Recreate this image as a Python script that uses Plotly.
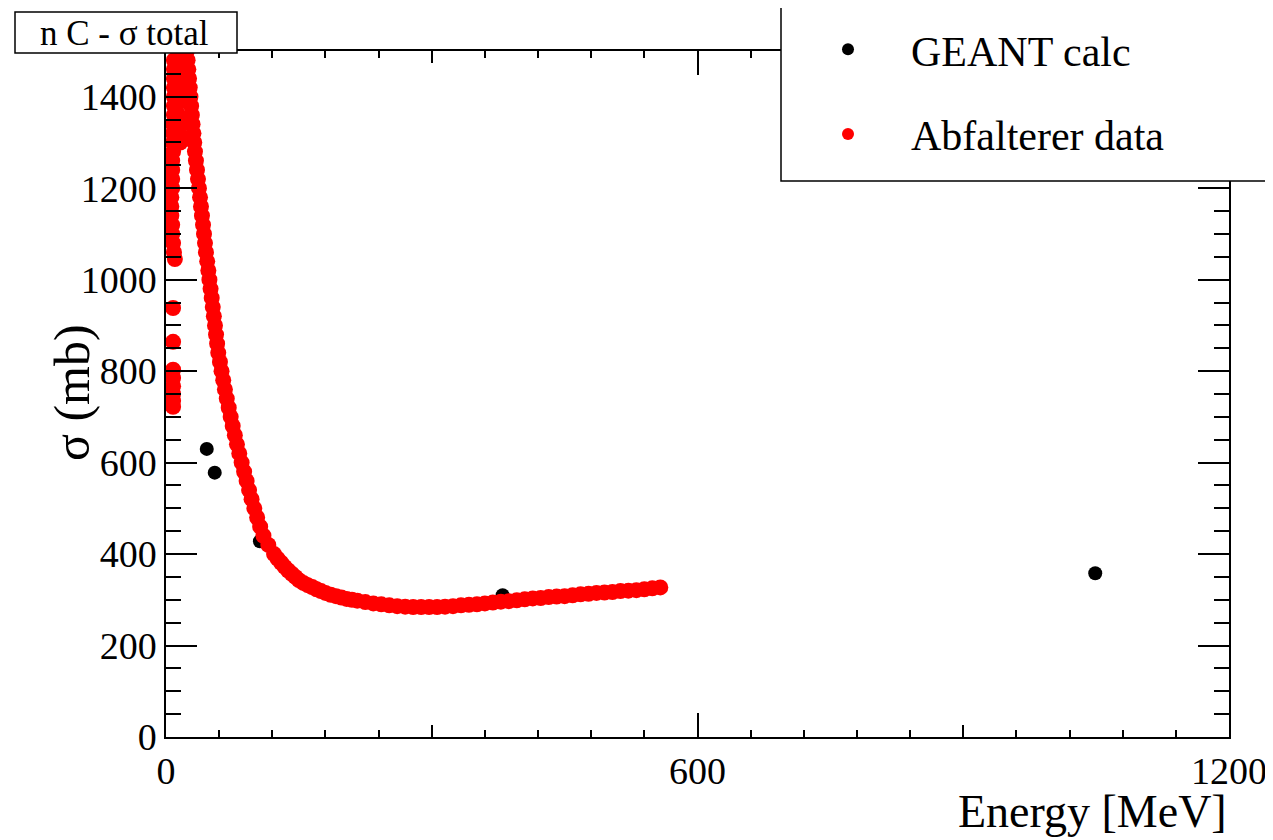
import plotly.graph_objects as go

# ---------------- data ----------------
geant_E = [46, 55, 106, 380, 1049]
geant_sigma = [630, 578, 428, 310, 358]

# low-energy resonance region of the Abfalterer data
abf_low_E = [8, 8, 8, 8, 8, 8, 8, 8, 10,
             9, 9, 9, 9, 9, 9, 9, 8, 8, 8, 8, 7, 7, 7, 7, 6, 6, 6, 7, 7, 8, 9,
             15, 18, 15, 17, 14, 18, 13, 16, 20]
abf_low_sigma = [722, 735, 750, 767, 785, 803, 864, 938, 1045,
                 1480, 1460, 1440, 1420, 1400, 1380, 1360, 1340, 1320, 1300, 1280, 1260, 1240,
                 1220, 1200, 1180, 1160, 1140, 1120, 1100, 1080, 1060,
                 1480, 1450, 1420, 1390, 1360, 1340, 1320, 1300, 1310]

# steeply falling part
abf_fall_E = [23.6, 24.4, 25.2, 26, 26.8, 27.6, 28.4, 29.2, 30, 31, 31.9, 32.7, 33.8, 35, 36.1,
              37.2, 38.4, 39.5, 40.6, 41.8, 42.9, 44, 45.1, 46.5, 47.8, 49, 50.3, 51.6, 52.8,
              54, 55.3, 56.5, 57.7, 59, 60.9, 62.7, 64.6, 66.5, 68.6, 70.8, 73, 75.3, 77.7,
              80.1, 82.7, 85.4, 88.2, 91, 93.8, 96.6, 99.7, 102.9, 106.3, 110, 115.5, 122]
abf_fall_sigma = [1500, 1480, 1460, 1440, 1420, 1400, 1380, 1360, 1340, 1320, 1300, 1280, 1260,
                  1240, 1220, 1200, 1180, 1160, 1140, 1120, 1100, 1080, 1060, 1040, 1020, 1000,
                  980, 960, 940, 920, 900, 880, 860, 840, 820, 800, 780, 760, 740, 720, 700,
                  680, 660, 640, 620, 600, 580, 560, 540, 520, 500, 480, 460, 440, 420, 400]

# flat / slowly rising part
abf_flat_E = [126, 130, 134, 138, 142, 146, 150, 155, 160, 165, 170, 175, 180, 186, 192, 198,
              204, 210, 216, 225, 234, 243, 252, 261, 270, 279, 288, 297, 306, 315, 324, 333,
              342, 351, 360, 369, 378, 387, 396, 405, 414, 423, 432, 441, 450, 459, 468, 477,
              486, 495, 504, 513, 522, 531, 540, 549, 558]
abf_flat_sigma = [390, 381, 372, 364, 357, 350, 343, 337, 332, 328, 323, 319, 315, 311, 308, 305,
                  302, 300, 298, 295, 292, 290, 288, 286, 285, 284, 284, 284, 284, 285, 286, 288,
                  289, 290, 292, 294, 296, 297, 299, 301, 303, 304, 306, 307, 308, 310, 312, 313,
                  315, 316, 317, 319, 320, 321, 323, 325, 327]

abf_E = abf_low_E + abf_fall_E + abf_flat_E
abf_sigma = abf_low_sigma + abf_fall_sigma + abf_flat_sigma

x_major = [0, 600, 1200]
x_mid = [300, 900]

FONT = "Liberation Serif"

# page body has an 8px margin: figure is 8px smaller and placed at (8, 8)
W, H = 1265, 832
PL, PR, PT, PB = 166, 1229, 51, 737          # plot frame in page pixels
OFF = 8


def px_x(px):
    return (px - PL) / (PR - PL)


def px_y(py):
    return (PB - py) / (PB - PT)


# ---------------- figure ----------------
fig = go.Figure()
fig.add_trace(go.Scatter(
    x=geant_E, y=geant_sigma, mode="markers", name="GEANT calc",
    marker=dict(color="black", size=14, line=dict(width=0)),
    legendgroup="g1",
))
fig.add_trace(go.Scatter(
    x=abf_E, y=abf_sigma, mode="markers", name="Abfalterer data",
    marker=dict(color="#ff0000", size=16, line=dict(width=0)),
    legendgroup="g2",
))

axis_common = dict(
    showline=True, linecolor="black", linewidth=1.5, mirror="ticks",
    ticks="inside", tickcolor="black", tickwidth=1.5,
    showgrid=False, zeroline=False,
    tickfont=dict(family=FONT, size=38, color="black"),
)

fig.update_layout(
    width=W, height=H,
    margin=dict(l=PL - OFF, r=W - (PR - OFF), t=PT - OFF, b=H - (PB - OFF), autoexpand=False),
    paper_bgcolor="white", plot_bgcolor="white",
    font=dict(family=FONT, color="black"),
    xaxis=dict(range=[0, 1200], tickvals=x_major, ticklen=24, automargin=False,
               minor=dict(dtick=60, ticklen=7, ticks="inside", tickcolor="black", tickwidth=1.5),
               **axis_common),
    xaxis2=dict(range=[0, 1200], overlaying="x", matches="x", anchor="y", side="bottom",
                tickvals=x_mid, ticklen=12, ticks="inside", tickcolor="black", tickwidth=1.5,
                showticklabels=False, showline=False, showgrid=False, zeroline=False,
                mirror="ticks"),
    yaxis=dict(range=[0, 1500], dtick=200, ticklen=31, automargin=False,
               minor=dict(dtick=50, ticklen=15, ticks="inside", tickcolor="black", tickwidth=1.5),
               **axis_common),
    showlegend=True,
    legend=dict(x=px_x(785), xanchor="left", y=px_y(15.5), yanchor="top",
                bgcolor="rgba(0,0,0,0)", borderwidth=0,
                font=dict(family=FONT, size=42, color="black"),
                itemwidth=116, itemsizing="constant",
                tracegroupgap=27, traceorder="grouped"),
)

# hidden helper trace so the secondary x axis (mid ticks) is drawn
fig.add_trace(go.Scatter(x=[], y=[], xaxis="x2", yaxis="y", showlegend=False))

# legend box (extends beyond the right edge of the canvas)
fig.add_shape(type="rect", xref="paper", yref="paper",
              x0=px_x(781), x1=1.2, y0=px_y(181), y1=px_y(7),
              line=dict(color="black", width=1.5), fillcolor="white", layer="above")
# title box
fig.add_shape(type="rect", xref="paper", yref="paper",
              x0=px_x(15), x1=px_x(237), y0=px_y(53), y1=px_y(12),
              line=dict(color="black", width=1.5), fillcolor="white", layer="above")
fig.add_annotation(text="n C - σ total", xref="paper", yref="paper",
                   x=px_x(124), y=px_y(33), xanchor="center", yanchor="middle",
                   showarrow=False, font=dict(family=FONT, size=35, color="black"))
# axis titles
fig.add_annotation(text="Energy [MeV]", xref="paper", yref="paper",
                   x=1, y=px_y(811), xanchor="right", yanchor="middle",
                   showarrow=False, font=dict(family=FONT, size=46, color="black"))
fig.add_annotation(text="σ (mb)", xref="paper", yref="paper", textangle=-90,
                   x=px_x(72), y=px_y(393), xanchor="center", yanchor="middle",
                   showarrow=False, font=dict(family=FONT, size=50, color="black"))

fig.write_html("out.html")
